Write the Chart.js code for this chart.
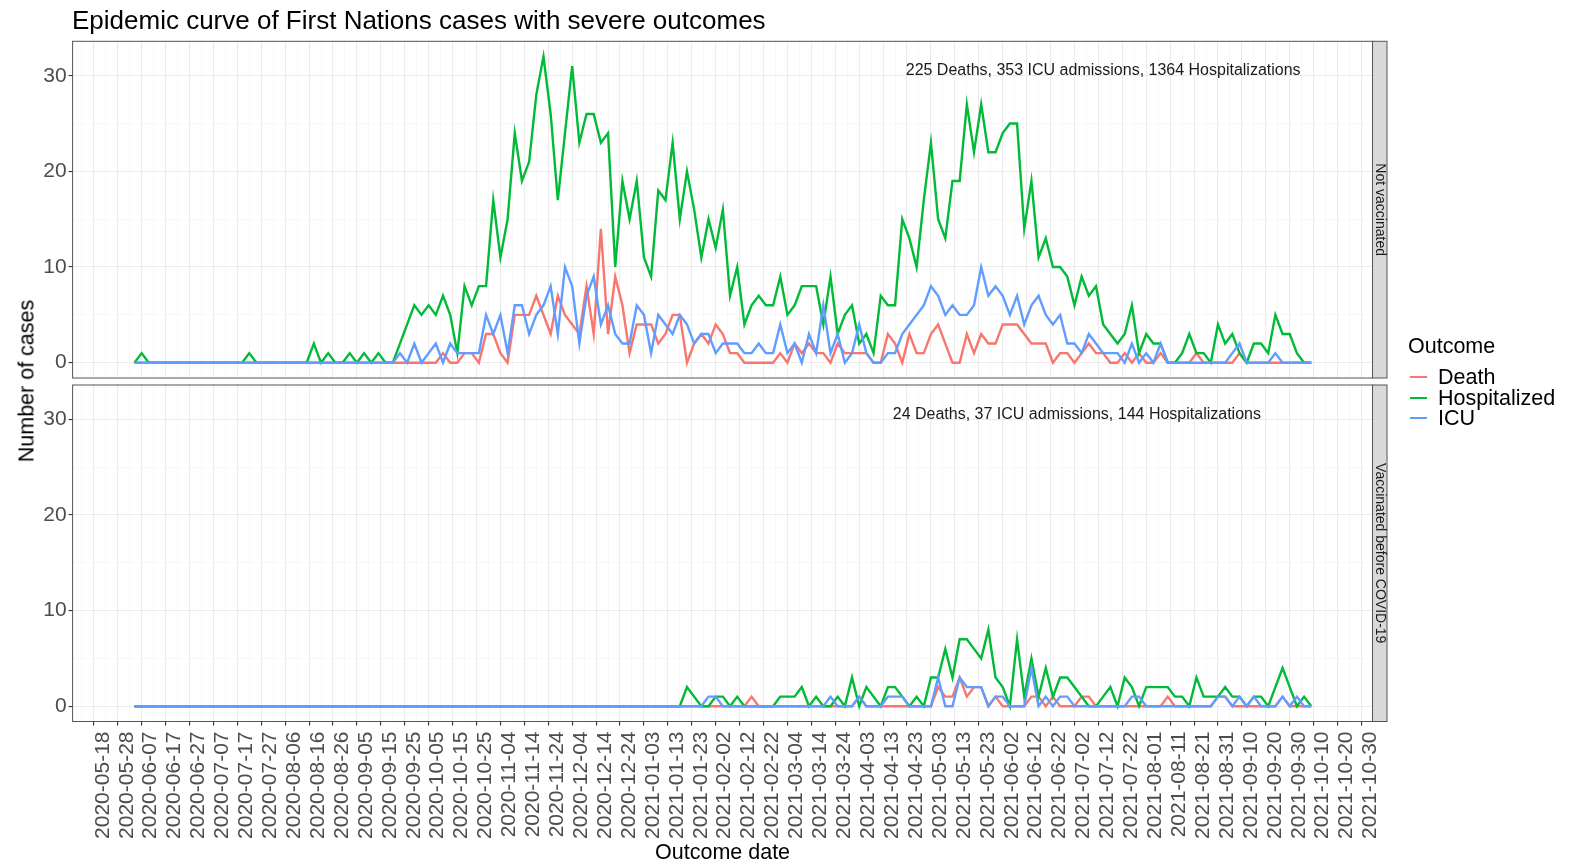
<!DOCTYPE html>
<html>
<head>
<meta charset="utf-8">
<title>Epidemic curve of First Nations cases with severe outcomes</title>
<script src="https://cdn.jsdelivr.net/npm/chart.js@4.4.1/dist/chart.umd.min.js"></script>
<style>
  body { margin: 0; background: #fff; font-family: "Liberation Sans", Arial, sans-serif; }
  #wrap { position: relative; width: 1580px; height: 861px; overflow: hidden; }
  canvas { position: absolute; left: 0; top: 0; }
  #title { position: absolute; left: 72px; top: 7px; font-size: 26px; line-height: 26px; color: #000; white-space: nowrap; }
  #ytitle { position: absolute; left: 27px; top: 381px; font-size: 21.5px; color: #000; white-space: nowrap;
            transform: translate(-50%, -50%) rotate(-90deg); }
  .lg { position: absolute; font-size: 21.5px; line-height: 24px; color: #000; white-space: nowrap; }
  .key { position: absolute; width: 17px; height: 2.5px; }
</style>
</head>
<body>
<div id="wrap">
  <canvas id="topPanel" width="1580" height="861"></canvas>
  <canvas id="bottomPanel" width="1580" height="861"></canvas>
  <div id="title">Epidemic curve of First Nations cases with severe outcomes</div>
  <div id="ytitle">Number of cases</div>
  <div id="legend"></div>
</div>
<script>
// outcome dates, as days after 2020-05-18 (one point every 3 days)
var dayOffset = [
  17, 20, 23, 26, 29, 32, 35, 38, 41, 44, 47, 50, 53, 56, 59,
  62, 65, 68, 71, 74, 77, 80, 83, 86, 89, 92, 95, 98, 101, 104,
  107, 110, 113, 116, 119, 122, 125, 128, 131, 134, 137, 140, 143, 146, 149,
  152, 155, 158, 161, 164, 167, 170, 173, 176, 179, 182, 185, 188, 191, 194,
  197, 200, 203, 206, 209, 212, 215, 218, 221, 224, 227, 230, 233, 236, 239,
  242, 245, 248, 251, 254, 257, 260, 263, 266, 269, 272, 275, 278, 281, 284,
  287, 290, 293, 296, 299, 302, 305, 308, 311, 314, 317, 320, 323, 326, 329,
  332, 335, 338, 341, 344, 347, 350, 353, 356, 359, 362, 365, 368, 371, 374,
  377, 380, 383, 386, 389, 392, 395, 398, 401, 404, 407, 410, 413, 416, 419,
  422, 425, 428, 431, 434, 437, 440, 443, 446, 449, 452, 455, 458, 461, 464,
  467, 470, 473, 476, 479, 482, 485, 488, 491, 494, 497, 500, 503, 506, 509
];

// x tick labels, every 10 days from 2020-05-18
var tickLabels = [
  '2020-05-18', '2020-05-28', '2020-06-07', '2020-06-17', '2020-06-27', '2020-07-07',
  '2020-07-17', '2020-07-27', '2020-08-06', '2020-08-16', '2020-08-26', '2020-09-05',
  '2020-09-15', '2020-09-25', '2020-10-05', '2020-10-15', '2020-10-25', '2020-11-04',
  '2020-11-14', '2020-11-24', '2020-12-04', '2020-12-14', '2020-12-24', '2021-01-03',
  '2021-01-13', '2021-01-23', '2021-02-02', '2021-02-12', '2021-02-22', '2021-03-04',
  '2021-03-14', '2021-03-24', '2021-04-03', '2021-04-13', '2021-04-23', '2021-05-03',
  '2021-05-13', '2021-05-23', '2021-06-02', '2021-06-12', '2021-06-22', '2021-07-02',
  '2021-07-12', '2021-07-22', '2021-08-01', '2021-08-11', '2021-08-21', '2021-08-31',
  '2021-09-10', '2021-09-20', '2021-09-30', '2021-10-10', '2021-10-20', '2021-10-30'
];

var outcomes = ['Death', 'Hospitalized', 'ICU'];
var outcomeColors = ['#F8766D', '#00BA38', '#619CFF'];

// Not vaccinated
var deathNotVacc = [
  0, 0, 0, 0, 0, 0, 0, 0, 0, 0, 0, 0, 0, 0, 0,
  0, 0, 0, 0, 0, 0, 0, 0, 0, 0, 0, 0, 0, 0, 0,
  0, 0, 0, 0, 0, 0, 0, 0, 0, 0, 0, 0, 0, 1, 0,
  0, 1, 1, 0, 3, 3, 1, 0, 5, 5, 5, 7, 5, 3, 7,
  5, 4, 3, 8, 3, 14, 3, 9, 6, 1, 4, 4, 4, 2, 3,
  5, 5, 0, 2, 3, 2, 4, 3, 1, 1, 0, 0, 0, 0, 0,
  1, 0, 2, 1, 2, 1, 1, 0, 2, 1, 1, 1, 1, 0, 0,
  3, 2, 0, 3, 1, 1, 3, 4, 2, 0, 0, 3, 1, 3, 2,
  2, 4, 4, 4, 3, 2, 2, 2, 0, 1, 1, 0, 1, 2, 1,
  1, 0, 0, 1, 0, 1, 0, 0, 1, 0, 0, 0, 0, 1, 0,
  0, 0, 0, 0, 1, 0, 0, 0, 0, 0, 0, 0, 0, 0, 0
];
var hospNotVacc = [
  0, 1, 0, 0, 0, 0, 0, 0, 0, 0, 0, 0, 0, 0, 0,
  0, 1, 0, 0, 0, 0, 0, 0, 0, 0, 2, 0, 1, 0, 0,
  1, 0, 1, 0, 1, 0, 0, 2, 4, 6, 5, 6, 5, 7, 5,
  1, 8, 6, 8, 8, 17, 11, 15, 24, 19, 21, 28, 32, 26, 17,
  24, 31, 23, 26, 26, 23, 24, 10, 19, 15, 19, 11, 9, 18, 17,
  23, 15, 20, 16, 11, 15, 12, 16, 7, 10, 4, 6, 7, 6, 6,
  9, 5, 6, 8, 8, 8, 4, 9, 3, 5, 6, 2, 3, 1, 7,
  6, 6, 15, 13, 10, 17, 23, 15, 13, 19, 19, 27, 22, 27, 22,
  22, 24, 25, 25, 14, 19, 11, 13, 10, 10, 9, 6, 9, 7, 8,
  4, 3, 2, 3, 6, 1, 3, 2, 2, 0, 0, 1, 3, 1, 1,
  0, 4, 2, 3, 1, 0, 2, 2, 1, 5, 3, 3, 1, 0, 0
];
var icuNotVacc = [
  0, 0, 0, 0, 0, 0, 0, 0, 0, 0, 0, 0, 0, 0, 0,
  0, 0, 0, 0, 0, 0, 0, 0, 0, 0, 0, 0, 0, 0, 0,
  0, 0, 0, 0, 0, 0, 0, 1, 0, 2, 0, 1, 2, 0, 2,
  1, 1, 1, 1, 5, 3, 5, 1, 6, 6, 3, 5, 6, 8, 3,
  10, 8, 2, 7, 9, 4, 6, 3, 2, 2, 6, 5, 1, 5, 4,
  3, 5, 4, 2, 3, 3, 1, 2, 2, 2, 1, 1, 2, 1, 1,
  4, 1, 2, 0, 3, 1, 6, 1, 3, 0, 1, 4, 1, 0, 0,
  1, 1, 3, 4, 5, 6, 8, 7, 5, 6, 5, 5, 6, 10, 7,
  8, 7, 5, 7, 4, 6, 7, 5, 4, 5, 2, 2, 1, 3, 2,
  1, 1, 1, 0, 2, 0, 1, 0, 2, 0, 0, 0, 0, 0, 0,
  0, 0, 0, 1, 2, 0, 0, 0, 0, 1, 0, 0, 0, 0, 0
];

// Vaccinated before COVID-19
var deathVacc = [
  0, 0, 0, 0, 0, 0, 0, 0, 0, 0, 0, 0, 0, 0, 0,
  0, 0, 0, 0, 0, 0, 0, 0, 0, 0, 0, 0, 0, 0, 0,
  0, 0, 0, 0, 0, 0, 0, 0, 0, 0, 0, 0, 0, 0, 0,
  0, 0, 0, 0, 0, 0, 0, 0, 0, 0, 0, 0, 0, 0, 0,
  0, 0, 0, 0, 0, 0, 0, 0, 0, 0, 0, 0, 0, 0, 0,
  0, 0, 0, 0, 0, 0, 0, 0, 0, 0, 0, 1, 0, 0, 0,
  0, 0, 0, 0, 0, 0, 0, 0, 0, 0, 0, 1, 0, 0, 0,
  0, 0, 0, 0, 0, 0, 0, 2, 1, 1, 3, 1, 2, 2, 0,
  1, 0, 0, 0, 0, 1, 1, 0, 1, 0, 0, 0, 1, 1, 0,
  0, 0, 0, 0, 0, 0, 0, 0, 0, 1, 0, 0, 0, 0, 0,
  0, 1, 1, 0, 0, 0, 0, 0, 0, 0, 1, 0, 0, 0, 0
];
var hospVacc = [
  0, 0, 0, 0, 0, 0, 0, 0, 0, 0, 0, 0, 0, 0, 0,
  0, 0, 0, 0, 0, 0, 0, 0, 0, 0, 0, 0, 0, 0, 0,
  0, 0, 0, 0, 0, 0, 0, 0, 0, 0, 0, 0, 0, 0, 0,
  0, 0, 0, 0, 0, 0, 0, 0, 0, 0, 0, 0, 0, 0, 0,
  0, 0, 0, 0, 0, 0, 0, 0, 0, 0, 0, 0, 0, 0, 0,
  0, 0, 2, 1, 0, 0, 1, 1, 0, 1, 0, 0, 0, 0, 0,
  1, 1, 1, 2, 0, 1, 0, 0, 1, 0, 3, 0, 2, 1, 0,
  2, 2, 1, 0, 1, 0, 3, 3, 6, 3, 7, 7, 6, 5, 8,
  3, 2, 0, 7, 1, 5, 1, 4, 1, 3, 3, 2, 1, 0, 0,
  1, 2, 0, 3, 2, 0, 2, 2, 2, 2, 1, 1, 0, 3, 1,
  1, 1, 2, 1, 1, 0, 1, 1, 0, 2, 4, 2, 0, 1, 0
];
var icuVacc = [
  0, 0, 0, 0, 0, 0, 0, 0, 0, 0, 0, 0, 0, 0, 0,
  0, 0, 0, 0, 0, 0, 0, 0, 0, 0, 0, 0, 0, 0, 0,
  0, 0, 0, 0, 0, 0, 0, 0, 0, 0, 0, 0, 0, 0, 0,
  0, 0, 0, 0, 0, 0, 0, 0, 0, 0, 0, 0, 0, 0, 0,
  0, 0, 0, 0, 0, 0, 0, 0, 0, 0, 0, 0, 0, 0, 0,
  0, 0, 0, 0, 0, 1, 1, 0, 0, 0, 0, 0, 0, 0, 0,
  0, 0, 0, 0, 0, 0, 0, 1, 0, 0, 0, 1, 0, 0, 0,
  1, 1, 1, 0, 0, 0, 0, 3, 0, 0, 3, 2, 2, 2, 0,
  1, 1, 0, 0, 0, 4, 0, 1, 0, 1, 1, 0, 0, 0, 0,
  0, 0, 0, 0, 1, 1, 0, 0, 0, 0, 0, 0, 0, 0, 0,
  0, 1, 1, 0, 1, 0, 1, 0, 0, 0, 1, 0, 1, 0, 0
];

var panelLabels = ['Not vaccinated', 'Vaccinated before COVID-19'];
var panelNotes = ['225 Deaths, 353 ICU admissions, 1364 Hospitalizations',
                  '24 Deaths, 37 ICU admissions, 144 Hospitalizations'];
var noteDay = [422, 411];
var noteValue = 30.5;

Chart.defaults.font.family = '"Liberation Sans", Arial, sans-serif';

// panel frame, facet strip and the summary note
var panelDecor = {
  id: 'panelDecor',
  afterDraw: function (chart) {
    var a = chart.chartArea;
    var c = chart.ctx;
    var o = chart.options.plugins.panelDecor;
    c.save();
    // note
    c.fillStyle = '#1A1A1A';
    c.font = '16px "Liberation Sans", Arial, sans-serif';
    c.textAlign = 'center';
    c.textBaseline = 'middle';
    c.fillText(o.note, chart.scales.x.getPixelForValue(o.noteDay), chart.scales.y.getPixelForValue(noteValue));
    // border
    c.strokeStyle = '#555555';
    c.lineWidth = 1;
    c.strokeRect(a.left, a.top, a.right - a.left, a.bottom - a.top);
    // strip
    c.fillStyle = '#D9D9D9';
    c.fillRect(a.right, a.top, 14.5, a.bottom - a.top);
    c.strokeRect(a.right, a.top, 14.5, a.bottom - a.top);
    c.translate(a.right + 7.5, (a.top + a.bottom) / 2);
    c.rotate(Math.PI / 2);
    c.fillStyle = '#1A1A1A';
    c.font = '14px "Liberation Sans", Arial, sans-serif';
    c.fillText(o.strip, 0, 0);
    c.restore();
  }
};

function isMajor(v) { return Math.abs(v % 10) < 1e-6; }
function gridColor(ctx) { return ctx.tick && isMajor(ctx.tick.value) ? '#EBEBEB' : '#F4F4F4'; }
function gridWidth(ctx) { return ctx.tick && isMajor(ctx.tick.value) ? 1.1 : 0.7; }
function tickColor(ctx) { return ctx.tick && isMajor(ctx.tick.value) ? '#333333' : 'rgba(0,0,0,0)'; }

function makePanel(canvasId, deaths, hosp, icu, idx, padTop, padBottom, withAxis) {
  var series = [deaths, hosp, icu];
  var datasets = outcomes.map(function (name, i) {
    return {
      label: name,
      data: dayOffset.map(function (d, j) { return { x: d, y: series[i][j] }; }),
      borderColor: outcomeColors[i],
      borderWidth: 2.4,
      pointRadius: 0,
      fill: false,
      tension: 0,
      order: 3 - i
    };
  });

  return new Chart(document.getElementById(canvasId).getContext('2d'), {
    type: 'line',
    data: { datasets: datasets },
    plugins: [panelDecor],
    options: {
      responsive: false,
      animation: false,
      events: [],
      layout: { padding: { left: 0, top: padTop, right: 207.5, bottom: padBottom } },
      plugins: {
        legend: { display: false },
        tooltip: { enabled: false },
        panelDecor: { strip: panelLabels[idx], note: panelNotes[idx], noteDay: noteDay[idx] }
      },
      scales: {
        x: {
          type: 'linear',
          min: -8.86,
          max: 534.6,
          afterFit: function (s) { s.height = withAxis ? 139.5 : 0; },
          border: { display: false },
          grid: { color: gridColor, lineWidth: gridWidth, drawTicks: withAxis, tickLength: 4, tickColor: tickColor },
          ticks: {
            display: withAxis,
            stepSize: 5,
            includeBounds: false,
            autoSkip: false,
            minRotation: 90,
            maxRotation: 90,
            padding: 6,
            labelOffset: 9,
            color: '#4D4D4D',
            font: { size: 21 },
            callback: function (v) {
              var i = Math.round(v / 10);
              return (isMajor(v) && i >= 0 && i < tickLabels.length) ? tickLabels[i] : '';
            }
          },
          title: {
            display: withAxis,
            text: 'Outcome date',
            color: '#000',
            font: { size: 21.5, lineHeight: 1 },
            padding: { top: 0, bottom: -3 }
          }
        },
        y: {
          min: -1.6,
          max: 33.6,
          afterFit: function (s) { s.width = 72.6; },
          border: { display: false },
          grid: { color: gridColor, lineWidth: gridWidth, tickLength: 4, tickColor: tickColor },
          ticks: {
            stepSize: 5,
            includeBounds: false,
            padding: 2,
            color: '#4D4D4D',
            font: { size: 21 },
            callback: function (v) { return isMajor(v) ? String(v) : ''; }
          }
        }
      }
    }
  });
}

makePanel('topPanel', deathNotVacc, hospNotVacc, icuNotVacc, 0, 41.3, 483, false);
makePanel('bottomPanel', deathVacc, hospVacc, icuVacc, 1, 385, 0, true);

// legend
var legend = document.getElementById('legend');
var head = document.createElement('div');
head.className = 'lg';
head.style.left = '1408px';
head.style.top = '334px';
head.textContent = 'Outcome';
legend.appendChild(head);
var itemY = [377, 398, 418];
outcomes.forEach(function (name, i) {
  var key = document.createElement('div');
  key.className = 'key';
  key.style.left = '1410px';
  key.style.top = (itemY[i] - 1.25) + 'px';
  key.style.background = outcomeColors[i];
  legend.appendChild(key);
  var lab = document.createElement('div');
  lab.className = 'lg';
  lab.style.left = '1438px';
  lab.style.top = (itemY[i] - 12) + 'px';
  lab.textContent = name;
  legend.appendChild(lab);
});
</script>
</body>
</html>
